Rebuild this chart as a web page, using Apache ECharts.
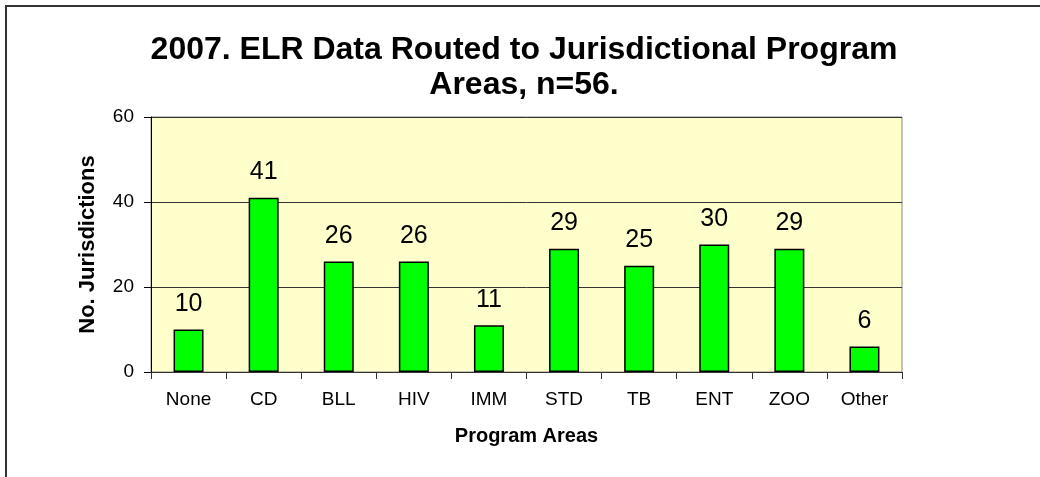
<!DOCTYPE html>
<html>
<head>
<meta charset="utf-8">
<script src="https://cdn.jsdelivr.net/npm/echarts@6/dist/echarts.min.js"></script>
<style>
  html, body { margin: 0; padding: 0; background: #fff; }
  #chart { width: 1040px; height: 477px; }
</style>
</head>
<body>
<div id="chart"></div>
<script>
// program areas along the x axis
const categories = ['None', 'CD', 'BLL', 'HIV', 'IMM', 'STD', 'TB', 'ENT', 'ZOO', 'Other'];
// number of jurisdictions per area
const jurisdictions = [10, 41, 26, 26, 11, 29, 25, 30, 29, 6];
const yTicks = [0, 20, 40, 60];

const chart = echarts.init(document.getElementById('chart'));

const option = {
  backgroundColor: '#fff',
  animation: false,
  textStyle: { fontFamily: 'Liberation Sans, Arial, sans-serif' },
  graphic: [
    {
      // chart frame, only top/left visible in the picture
      type: 'rect',
      shape: { x: 6, y: 6, width: 1200, height: 1000 },
      style: { fill: 'none', stroke: '#333', lineWidth: 2 }
    }
  ],
  title: {
    text: '2007. ELR Data Routed to Jurisdictional Program\nAreas, n=56.',
    left: 519,
    top: 28,
    textAlign: 'center',
    textStyle: {
      fontSize: 32,
      fontWeight: 'bold',
      lineHeight: 35,
      color: '#000'
    }
  },
  grid: {
    left: 151,
    right: 138,
    top: 117,
    bottom: 105,
    show: true,
    backgroundColor: '#FFFFCC',
    borderColor: '#888',
    borderWidth: 1
  },
  xAxis: {
    type: 'category',
    data: categories,
    name: 'Program Areas',
    nameLocation: 'middle',
    nameGap: 54,
    nameTextStyle: { fontSize: 20, fontWeight: 'bold', color: '#000' },
    axisLine: { lineStyle: { color: '#333', width: 1 } },
    axisTick: { show: true, length: 7, lineStyle: { color: '#333' } },
    axisLabel: { fontSize: 19, color: '#000', margin: 18 }
  },
  yAxis: {
    type: 'value',
    min: yTicks[0],
    max: yTicks[yTicks.length - 1],
    interval: 20,
    name: 'No. Jurisdictions',
    nameLocation: 'middle',
    nameRotate: 90,
    nameGap: 52,
    nameTextStyle: { fontSize: 22, fontWeight: 'bold', color: '#000' },
    axisLine: { show: true, lineStyle: { color: '#000', width: 1 } },
    axisTick: { show: true, length: 7, lineStyle: { color: '#000' } },
    axisLabel: { fontSize: 19, color: '#000', margin: 17 },
    splitLine: { show: true, lineStyle: { color: '#333', width: 1 } }
  },
  series: [
    {
      type: 'bar',
      data: jurisdictions,
      barWidth: 30,
      itemStyle: { color: '#00FF00', borderColor: '#000', borderWidth: 1.5 },
      label: {
        show: true,
        position: 'top',
        distance: 13,
        fontSize: 25,
        color: '#000'
      }
    }
  ]
};

chart.setOption(option);
</script>
</body>
</html>
